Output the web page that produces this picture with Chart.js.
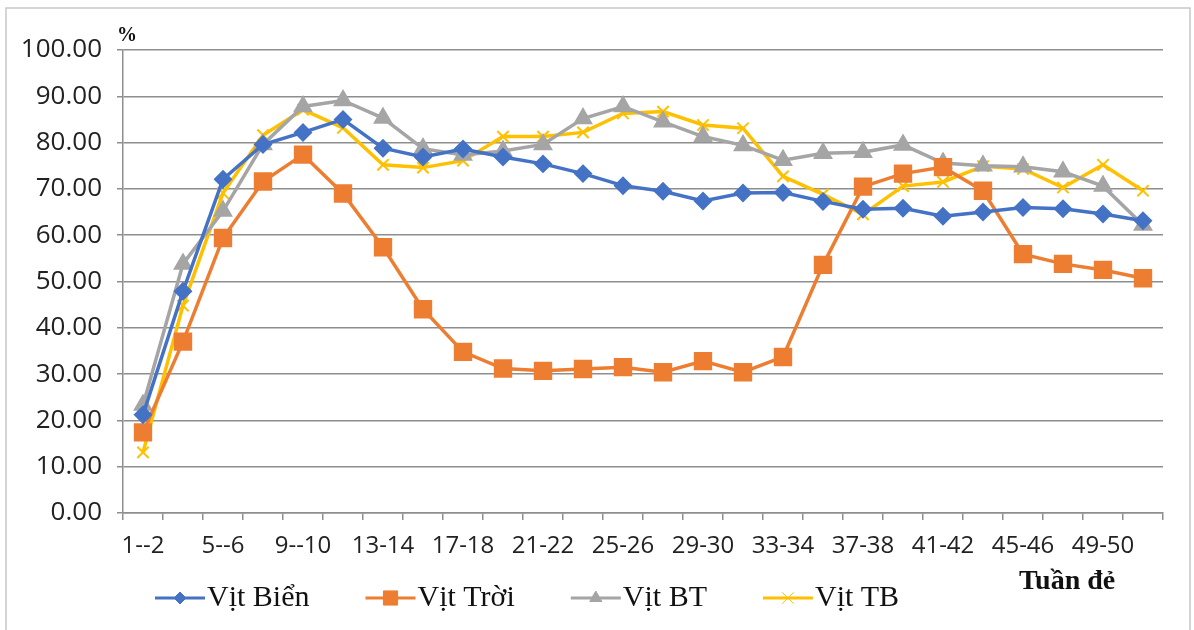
<!DOCTYPE html>
<html>
<head>
<meta charset="utf-8">
<script src="https://cdn.jsdelivr.net/npm/chart.js@4"></script>
<style>
  html, body { margin: 0; padding: 0; background: #fff; }
  #wrap { width: 1194px; height: 630px; }
</style>
</head>
<body>
<div id="wrap"><canvas id="eggChart" width="1194" height="630"></canvas></div>
<script>
// tuần đẻ (2-week periods)
const weeks = ['1--2', '3--4', '5--6', '7--8', '9--10', '11-12', '13-14', '15-16', '17-18', '19-20',
    '21-22', '23-24', '25-26', '27-28', '29-30', '31-32', '33-34', '35-36', '37-38', '39-40',
    '41-42', '43-44', '45-46', '47-48', '49-50', '51-52'];

const vitBien = [21.2, 47.9, 72.1, 79.6, 82.2, 85.0, 78.8, 76.9, 78.6, 76.9,
    75.4, 73.3, 70.7, 69.5, 67.4, 69.1, 69.2, 67.3, 65.6, 65.8,
    64.1, 65.0, 66.0, 65.7, 64.6, 63.1];
const vitTroi = [17.4, 37.0, 59.4, 71.6, 77.4, 69.0, 57.4, 44.0, 34.8, 31.2,
    30.7, 31.1, 31.5, 30.4, 32.8, 30.4, 33.7, 53.6, 70.5, 73.3,
    74.7, 69.6, 55.9, 53.8, 52.5, 50.7];
const vitBT = [23.3, 53.8, 65.2, 79.6, 87.8, 89.1, 85.3, 78.7, 77.3, 78.2,
    79.6, 85.2, 87.8, 84.5, 81.3, 79.4, 76.2, 77.7, 77.9, 79.5,
    75.6, 75.0, 74.8, 73.7, 70.6, 62.2];
const vitTB = [13.1, 44.8, 69.1, 81.6, 87.1, 83.2, 75.2, 74.6, 76.1, 81.3,
    81.3, 82.2, 86.3, 86.7, 83.8, 83.1, 72.7, 68.8, 64.5, 70.6,
    71.5, 74.9, 74.3, 70.3, 75.2, 69.6];

const yTicks = [0, 10, 20, 30, 40, 50, 60, 70, 80, 90, 100];

const gridColor = '#8e8e8e';
const textColor = '#222';

// legend drawn by hand: line + marker, then serif text
const legendPlugin = {
    id: 'excelLegend',
    afterDraw(chart) {
        const ctx = chart.ctx;
        ctx.save();
        ctx.font = '30px "Liberation Serif"';
        ctx.textBaseline = 'middle';
        let x = 155;
        const y = 598;
        chart.data.datasets.forEach(ds => {
            ctx.strokeStyle = ds.borderColor;
            ctx.lineWidth = 3;
            ctx.beginPath();
            ctx.moveTo(x, y);
            ctx.lineTo(x + 50, y);
            ctx.stroke();
            ctx.fillStyle = ds.pointBackgroundColor;
            ctx.strokeStyle = ds.borderColor;
            ctx.lineWidth = 1;
            Chart.helpers.drawPoint(ctx, {
                pointStyle: ds.pointStyle,
                radius: ds.legendRadius,
                rotation: 0,
                borderWidth: ds.pointStyle === 'crossRot' ? 2 : 1
            }, x + 25, y);
            ctx.fillStyle = '#111';
            ctx.textAlign = 'left';
            ctx.fillText(ds.label, x + 52, y);
            x += 52 + ctx.measureText(ds.label).width + 56;
        });

        // axis captions
        ctx.font = 'bold 28px "Liberation Serif"';
        ctx.fillStyle = '#111';
        ctx.fillText('Tuần đẻ', 1019, 582);
        ctx.font = 'bold 20px "Liberation Serif"';
        ctx.fillText('%', 117, 36);

        // outer frame
        ctx.strokeStyle = '#c8c8c8';
        ctx.lineWidth = 1.5;
        ctx.strokeRect(6, 8, 1184, 640);
        ctx.restore();
    }
};

const ctx = document.getElementById('eggChart').getContext('2d');
const eggChart = new Chart(ctx, {
    type: 'line',
    data: {
        labels: weeks,
        datasets: [{
            label: 'Vịt Biển',
            data: vitBien,
            borderColor: '#4472C4',
            backgroundColor: '#4472C4',
            pointBackgroundColor: '#4472C4',
            pointStyle: 'rectRot',
            pointRadius: 7,
            legendRadius: 6,
            borderWidth: 3.5
        }, {
            label: 'Vịt Trời',
            data: vitTroi,
            borderColor: '#ED7D31',
            backgroundColor: '#ED7D31',
            pointBackgroundColor: '#ED7D31',
            pointStyle: 'rect',
            pointRadius: 10.5,
            legendRadius: 10,
            borderWidth: 3.5
        }, {
            label: 'Vịt BT',
            data: vitBT,
            borderColor: '#A5A5A5',
            backgroundColor: '#A5A5A5',
            pointBackgroundColor: '#A5A5A5',
            pointStyle: 'triangle',
            pointRadius: 8,
            legendRadius: 7,
            borderWidth: 3.5
        }, {
            label: 'Vịt TB',
            data: vitTB,
            borderColor: '#FFC000',
            backgroundColor: '#FFC000',
            pointBackgroundColor: '#FFC000',
            pointStyle: 'crossRot',
            pointRadius: 8,
            pointBorderWidth: 2,
            legendRadius: 8,
            borderWidth: 3.5
        }]
    },
    options: {
        responsive: false,
        animation: false,
        layout: { padding: { top: 50, right: 31, left: 0, bottom: 57 } },
        plugins: {
            legend: { display: false },
            tooltip: { enabled: false }
        },
        elements: { line: { tension: 0 } },
        scales: {
            x: {
                offset: true,
                grid: {
                    offset: true,
                    drawOnChartArea: false,
                    drawTicks: true,
                    tickLength: 7,
                    color: gridColor,
                    lineWidth: 1.5
                },
                border: { color: gridColor, width: 1.5 },
                ticks: {
                    autoSkip: false,
                    maxRotation: 0,
                    padding: 12,
                    color: textColor,
                    font: { family: '"Open Sans"', size: 24 },
                    callback: function(v, i) { return i % 2 === 0 ? weeks[i] : ''; }
                },
                afterFit: function(scale) { scale.height = 60; }
            },
            y: {
                min: 0,
                max: 100,
                afterBuildTicks: function(scale) { scale.ticks = yTicks.map(v => ({ value: v })); },
                grid: { color: gridColor, lineWidth: 1.5, tickLength: 6 },
                border: { color: gridColor, width: 1.5 },
                ticks: {
                    padding: 15,
                    color: textColor,
                    font: { family: '"Open Sans"', size: 26 },
                    callback: function(v) { return v.toFixed(2); }
                },
                afterFit: function(scale) { scale.width = 123; }
            }
        }
    },
    plugins: [legendPlugin]
});
</script>
</body>
</html>
